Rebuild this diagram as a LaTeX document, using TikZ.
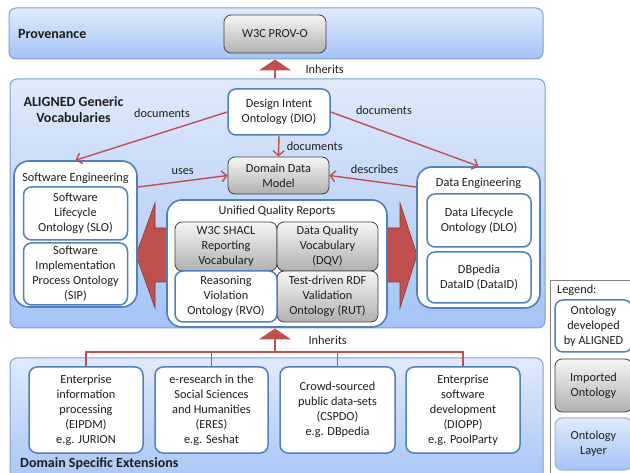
\documentclass[tikz,border=0pt]{standalone}
\usepackage{fontspec}
\setmainfont{Carlito}
\usetikzlibrary{arrows.meta}

\definecolor{layertop}{RGB}{224,234,251}
\definecolor{layerbot}{RGB}{164,195,245}
\definecolor{layerline}{RGB}{125,160,215}
\definecolor{ownline}{RGB}{79,129,189}
\definecolor{imptop}{RGB}{246,246,246}
\definecolor{impbot}{RGB}{176,176,176}
\definecolor{impline}{RGB}{64,64,64}
\definecolor{arrowred}{RGB}{192,80,77}
\definecolor{arrowdark}{RGB}{140,56,54}
\definecolor{inktext}{RGB}{30,30,30}

\newcommand{\boxfont}{\fontsize{12.3}{15}\selectfont}
\newcommand{\titlefont}{\fontsize{14}{16}\selectfont\bfseries}

\tikzset{
    layer/.style={draw=layerline, line width=1pt, rounded corners=7pt, top color=layertop, bottom color=layerbot, inner sep=0pt},
    own/.style={draw=ownline, line width=1.5pt, rounded corners=8pt, fill=white, align=center, inner sep=1pt},
    imported/.style={draw=impline, line width=0.8pt, rounded corners=7pt, top color=imptop, bottom color=impbot, align=center, inner sep=1pt},
    group/.style={draw=ownline, line width=1.6pt, rounded corners=15pt, fill=white, inner sep=0pt},
    title/.style={font=\titlefont, align=center, inner sep=0pt},
    rel/.style={draw=arrowred, line width=1.4pt, -{Straight Barb[length=5pt,width=11pt]}},
    inherit/.style={draw=arrowred, line width=2.5pt, -{Triangle[width=32pt,length=11pt]}},
    branch/.style={draw=arrowred, line width=1.8pt},
}

\begin{document}
\begin{tikzpicture}[x=1pt, y=-1pt, every node/.style={font=\boxfont, text=inktext}]
    \clip (0,0) rectangle (630,473);

    % layers
    \node[layer, minimum width=534, minimum height=51] (prov) at (276,33.5) {};
    \node[layer, minimum width=535, minimum height=249] (aligned) at (277.5,203.5) {};
    \node[layer, minimum width=533, minimum height=132] (dse) at (276.5,424) {};
    \node[title, anchor=west] (provtitle) at (18,34) {Provenance};
    \node[title] (alignedtitle) at (73.5,110) {ALIGNED Generic\\Vocabularies};
    \node[title, anchor=west] (dsetitle) at (20,464) {Domain Specific Extensions};

    \node[imported, minimum width=102, minimum height=38] (provo) at (275,34) {W3C PROV-O};

    % quality reports feed both sides
    \fill[arrowred, draw=arrowdark, line width=0.6pt] (136,255) -- (155,203) -- (155,228) -- (400,228) -- (400,203)
        -- (417,255) -- (400,308) -- (400,282) -- (155,282) -- (155,308) -- cycle;

    \node[own, minimum width=102, minimum height=46] (dio) at (279,112) {Design Intent\\Ontology (DIO)};
    \node[imported, minimum width=101, minimum height=37] (ddm) at (278.5,175.5) {Domain Data\\Model};

    \node[group, minimum width=123, minimum height=146] (se) at (75.5,234) {};
    \node (setitle) at (75.5,178) {Software Engineering};
    \node[own, minimum width=104, minimum height=53] (slo) at (75.5,213.5) {Software\\Lifecycle\\Ontology (SLO)};
    \node[own, minimum width=104, minimum height=62] (sip) at (75.5,274) {Software\\Implementation\\Process Ontology\\(SIP)};

    \node[group, minimum width=123, minimum height=141] (de) at (478.5,237.5) {};
    \node (detitle) at (478.5,183) {Data Engineering};
    \node[own, minimum width=104, minimum height=53] (dlo) at (479,220.5) {Data Lifecycle\\Ontology (DLO)};
    \node[own, minimum width=104, minimum height=51] (dataid) at (479,277.5) {DBpedia\\DataID (DataID)};

    \node[group, minimum width=220, minimum height=127] (uqr) at (277,263.5) {};
    \node (uqrtitle) at (277,211) {Unified Quality Reports};
    \node[imported, minimum width=102, minimum height=49] (shacl) at (226,246.5) {W3C SHACL\\Reporting\\Vocabulary};
    \node[imported, minimum width=101, minimum height=49] (dqv) at (327.5,246.5) {Data Quality\\Vocabulary\\(DQV)};
    \node[imported, minimum width=101, minimum height=51] (rut) at (327.5,296.5) {Test-driven RDF\\Validation\\Ontology (RUT)};
    \node[own, minimum width=102, minimum height=51] (rvo) at (226,296.5) {Reasoning\\Violation\\Ontology (RVO)};

    \draw[rel] (dio.west) -- node[pos=0.43, above=11pt] {documents} (se.north);
    \draw[rel] (dio.east) -- node[pos=0.36, above=13pt] {documents} (de.north);
    \draw[rel] (dio.south) -- node[right=4pt] {documents} (ddm.north);
    \draw[rel] (se.37) -- node[above=3pt] {uses} (ddm.west);
    \draw[rel] (de.141) -- node[pos=0.48, above=4pt] {describes} (ddm.east);

    \draw[inherit] (aligned.north -| provo.south) -- (prov.south -| provo.south) node[midway, right=26pt] {Inherits};

    % domain specific extensions
    \node[own, minimum width=114, minimum height=86] (eipdm) at (86,410) {Enterprise\\information\\processing\\(EIPDM)\\e.g. JURION};
    \node[own, minimum width=113, minimum height=86] (eres) at (211.5,410) {e-research in the\\Social Sciences\\and Humanities\\(ERES)\\e.g. Seshat};
    \node[own, minimum width=115, minimum height=86] (cspdo) at (337.5,410) {Crowd-sourced\\public data-sets\\(CSPDO)\\e.g. DBpedia};
    \node[own, minimum width=114, minimum height=86] (diopp) at (463,410) {Enterprise\\software\\development\\(DIOPP)\\e.g. PoolParty};

    \coordinate (hub) at (275,352);
    \draw[branch] (eipdm.north) |- (hub) -| (diopp.north);
    \draw[branch] (eres.north) -- (eres.north |- hub);
    \draw[branch] (cspdo.north) -- (cspdo.north |- hub);
    \draw[inherit] (hub) -- (aligned.south -| hub) node[midway, right=29pt] {Inherits};

    % legend
    \node[draw=gray, line width=0.8pt, fill=white, minimum width=95, minimum height=210] (legend) at (597.5,385) {};
    \node[anchor=west, inner sep=0pt] (legendtitle) at (557,290) {Legend:};
    \node[own, minimum width=77, minimum height=52] (legown) at (593.5,326) {Ontology\\developed\\by ALIGNED};
    \node[imported, minimum width=77, minimum height=53] (legimp) at (593.5,385.5) {Imported\\Ontology};
    \node[layer, draw=ownline!60, align=center, minimum width=77, minimum height=52] (leglayer) at (593.5,444) {Ontology\\Layer};
\end{tikzpicture}
\end{document}
